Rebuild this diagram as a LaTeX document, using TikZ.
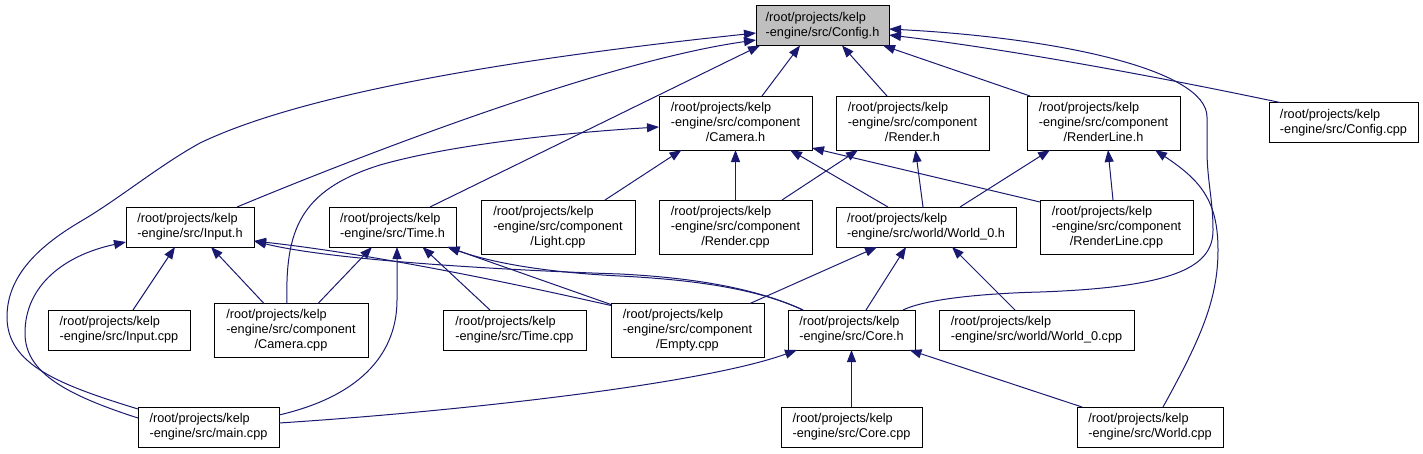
\documentclass[tikz,border=0pt]{standalone}
\usepackage{fontspec}
\setmainfont{Liberation Sans}
\usetikzlibrary{arrows.meta,calc}
\definecolor{edgec}{HTML}{191970}
\definecolor{curfill}{HTML}{BFBFBF}
\newcommand\threelab[3]{\begin{tabular}{@{}l@{}}#1\\#2\\\multicolumn{1}{@{}c@{}}{#3}\end{tabular}}
\begin{document}
\begin{tikzpicture}[x=1pt,y=-1pt,
  file/.style={draw=black, line width=1pt, fill=white, rectangle, inner xsep=0pt, inner ysep=0pt, align=left, font=\fontsize{12.7}{15}\selectfont},
  two/.style={file, minimum height=40pt},
  three/.style={file, minimum height=54pt},
  cur/.style={two, fill=curfill},
  edge/.style={draw=edgec, line width=1pt, -{Triangle[length=12pt,width=9pt]}},
]
\useasboundingbox (0,0) rectangle (1423,453);

% nodes
\node[cur, minimum width=133pt] (config) at (822.5,25.5) {/root/projects/kelp\\-engine/src/Config.h};
\node[three, minimum width=153pt] (camh) at (735.5,123) {\threelab{/root/projects/kelp}{-engine/src/component}{/Camera.h}};
\node[three, minimum width=153pt] (renderh) at (912.5,123) {\threelab{/root/projects/kelp}{-engine/src/component}{/Render.h}};
\node[three, minimum width=153pt] (renderlineh) at (1103.5,123) {\threelab{/root/projects/kelp}{-engine/src/component}{/RenderLine.h}};
\node[two, minimum width=149pt] (configcpp) at (1343.5,122.5) {/root/projects/kelp\\-engine/src/Config.cpp};
\node[two, minimum width=128pt] (inputh) at (190,227) {/root/projects/kelp\\-engine/src/Input.h};
\node[two, minimum width=127pt] (timeh) at (392.5,227) {/root/projects/kelp\\-engine/src/Time.h};
\node[three, minimum width=154pt] (lightcpp) at (558,227) {\threelab{/root/projects/kelp}{-engine/src/component}{/Light.cpp}};
\node[three, minimum width=153pt] (rendercpp) at (735.5,227) {\threelab{/root/projects/kelp}{-engine/src/component}{/Render.cpp}};
\node[two, minimum width=180pt] (world0h) at (926,227) {/root/projects/kelp\\-engine/src/world/World\_0.h};
\node[three, minimum width=153pt] (renderlinecpp) at (1116.5,227) {\threelab{/root/projects/kelp}{-engine/src/component}{/RenderLine.cpp}};
\node[two, minimum width=142pt] (inputcpp) at (119,330) {/root/projects/kelp\\-engine/src/Input.cpp};
\node[three, minimum width=154pt] (cameracpp) at (291,330.5) {\threelab{/root/projects/kelp}{-engine/src/component}{/Camera.cpp}};
\node[two, minimum width=143pt] (timecpp) at (514.5,330) {/root/projects/kelp\\-engine/src/Time.cpp};
\node[three, minimum width=153pt] (emptycpp) at (687.5,330.5) {\threelab{/root/projects/kelp}{-engine/src/component}{/Empty.cpp}};
\node[two, minimum width=127pt] (coreh) at (851.5,330) {/root/projects/kelp\\-engine/src/Core.h};
\node[two, minimum width=195pt] (world0cpp) at (1036.5,330) {/root/projects/kelp\\-engine/src/world/World\_0.cpp};
\node[two, minimum width=141pt] (maincpp) at (208.5,427) {/root/projects/kelp\\-engine/src/main.cpp};
\node[two, minimum width=141pt] (corecpp) at (851.5,427) {/root/projects/kelp\\-engine/src/Core.cpp};
\node[two, minimum width=146pt] (worldcpp) at (1150,427) {/root/projects/kelp\\-engine/src/World.cpp};

% edges to Config.h
\draw[edge] ($(camh)+(26.5,-27)$) -- ($(config)+(-22.5,20)$);
\draw[edge] ($(renderh)+(-25.5,-27)$) -- ($(config)+(19.5,20)$);
\draw[edge] ($(renderlineh)+(-73.5,-27)$) -- ($(config)+(60.5,20)$);
\draw[edge] ($(configcpp)+(-63.5,-20)$) .. controls (1150,75) and (1000,48) .. ($(config)+(66.5,9.5)$);
\draw[edge] ($(coreh)+(51.5,-20)$) .. controls (930,297) and (1000,293) .. (1040,292)
  .. controls (1180,287) and (1213,265) .. (1213,230)
  .. controls (1213,200) and (1207,180) .. (1207,150) -- (1207,117)
  .. controls (1207,70) and (1060,38) .. ($(config)+(66.5,3.5)$);
\draw[edge] ($(timeh)+(37.5,-20)$) -- ($(config)+(-62.5,20)$);
\draw[edge] ($(inputh)+(47,-20)$) .. controls (350,160) and (600,62) .. ($(config)+(-66.5,14.5)$);
\draw[edge] ($(maincpp)+(-70.5,-18)$) .. controls (60,385) and (7,365) .. (7,317)
  .. controls (7,275) and (40,245) .. (83,220)
  .. controls (120,198) and (160,165) .. (200,143)
  .. controls (300,95) and (500,60) .. ($(config)+(-66.5,7.5)$);

% edges to Input.h
\draw[edge] ($(maincpp)+(-70.5,-9)$) .. controls (60,393) and (25,370) .. (25,333)
  .. controls (25,285) and (65,255) .. ($(inputh)+(-64,15)$);
\draw[edge] ($(inputcpp)+(14,-20)$) -- ($(inputh)+(-15,20)$);
\draw[edge] ($(cameracpp)+(-27,-27)$) -- ($(inputh)+(21,20)$);
\draw[edge] ($(emptycpp)+(-76.5,-25)$) .. controls (520,285) and (380,255) .. ($(inputh)+(64,14)$);
\draw[edge] ($(coreh)+(-48.5,-20)$) .. controls (760,290) and (700,278) .. (620,274)
  .. controls (500,270) and (330,260) .. ($(inputh)+(64,14)$);

% edges to Time.h
\draw[edge] ($(maincpp)+(70.5,-12)$) .. controls (365,395) and (397,350) .. (397,300) -- ($(timeh)+(4.5,20)$);
\draw[edge] ($(cameracpp)+(27,-27)$) -- ($(timeh)+(-20.5,20)$);
\draw[edge] ($(timecpp)+(-24.5,-20)$) -- ($(timeh)+(30,20)$);
\draw[edge] ($(emptycpp)+(-76.5,-26)$) -- ($(timeh)+(55,20)$);
\draw[edge] ($(coreh)+(-48.5,-20)$) .. controls (760,290) and (700,280) .. (620,276)
  .. controls (540,272) and (490,262) .. ($(timeh)+(55,20)$);

% edges to Camera.h
\draw[edge] ($(cameracpp)+(-4,-27)$) .. controls (285,230) and (300,190) .. (380,165)
  .. controls (450,145) and (560,133) .. ($(camh)+(-76.5,4)$);
\draw[edge] ($(lightcpp)+(47,-27)$) -- ($(camh)+(-54,27)$);
\draw[edge] ($(rendercpp)+(0,-27)$) -- ($(camh)+(0,27)$);
\draw[edge] ($(world0h)+(-38,-20)$) -- ($(camh)+(54.5,27)$);
\draw[edge] ($(renderlinecpp)+(-76.5,-25)$) -- ($(camh)+(76.5,25)$);

% edges to Render.h
\draw[edge] ($(rendercpp)+(46.5,-27)$) -- ($(renderh)+(-54.5,27)$);
\draw[edge] ($(world0h)+(-3,-20)$) -- ($(renderh)+(3,27)$);

% edges to RenderLine.h
\draw[edge] ($(world0h)+(34,-20)$) -- ($(renderlineh)+(-53.5,27)$);
\draw[edge] ($(renderlinecpp)+(-3.5,-27)$) -- ($(renderlineh)+(4.5,27)$);
\draw[edge] ($(worldcpp)+(13,-20)$) .. controls (1200,340) and (1218,300) .. (1218,250)
  .. controls (1218,200) and (1200,180) .. ($(renderlineh)+(51.5,27)$);

% edges to World_0.h
\draw[edge] ($(emptycpp)+(62.5,-27)$) -- ($(world0h)+(-49,20)$);
\draw[edge] ($(coreh)+(14.5,-20)$) -- ($(world0h)+(-20,20)$);
\draw[edge] ($(world0cpp)+(-21.5,-20)$) -- ($(world0h)+(26,20)$);

% edges to Core.h
\draw[edge] ($(maincpp)+(70.5,-4)$) .. controls (450,412) and (700,385) .. ($(coreh)+(-54.5,20)$);
\draw[edge] ($(corecpp)+(0,-20)$) -- ($(coreh)+(0,20)$);
\draw[edge] ($(worldcpp)+(-68,-20)$) -- ($(coreh)+(58,20)$);
\end{tikzpicture}
\end{document}
